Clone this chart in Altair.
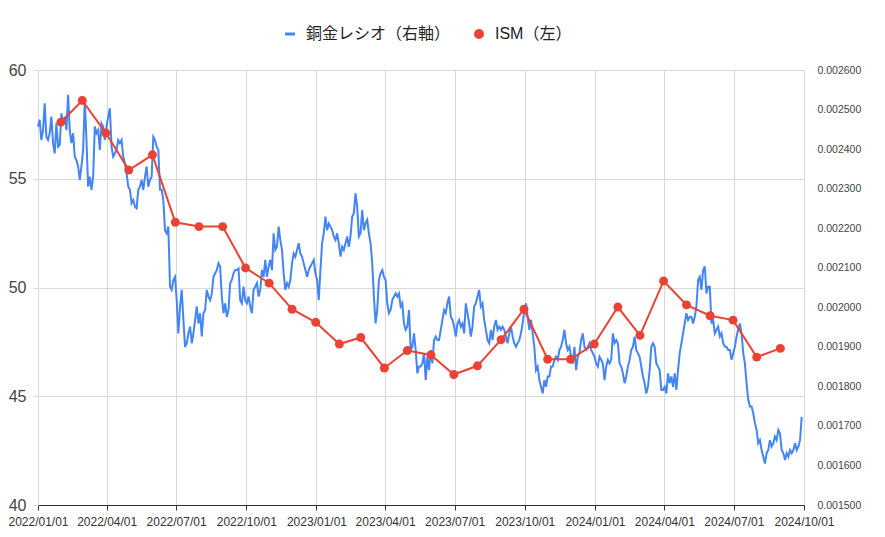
import altair as alt
import pandas as pd

# ---------------- data ----------------
# Copper/Gold ratio (right axis), sampled along the line
ratio_2022a = [
    0.002457, 0.002474, 0.002423, 0.002448, 0.002516, 0.002431, 0.002423, 0.002440, 0.002482, 0.002415,
    0.002389, 0.002465, 0.002406, 0.002410, 0.002490, 0.002465, 0.002482, 0.002448, 0.002537, 0.002448,
    0.002415, 0.002440, 0.002381, 0.002372, 0.002356, 0.002322, 0.002356, 0.002398, 0.002524, 0.002423,
    0.002305, 0.002330, 0.002297, 0.002330, 0.002457, 0.002440, 0.002448, 0.002398, 0.002465, 0.002457,
    0.002423, 0.002457, 0.002482, 0.002503, 0.002406, 0.002381, 0.002389, 0.002398, 0.002423, 0.002415,
    0.002423, 0.002381, 0.002364, 0.002339, 0.002305, 0.002297, 0.002263, 0.002271, 0.002254, 0.002250,
    0.002297, 0.002305, 0.002322, 0.002297, 0.002330, 0.002356, 0.002305, 0.002322, 0.002330, 0.002431,
    0.002423, 0.002406, 0.002398, 0.002297, 0.002297, 0.002271, 0.002195, 0.002187, 0.002204, 0.002052,
    0.002044, 0.002069, 0.002077, 0.002018, 0.001934, 0.002002, 0.002044, 0.001968, 0.001900, 0.001909,
    0.001934, 0.001951, 0.001909, 0.001934, 0.001968, 0.002002, 0.001959, 0.001985, 0.001926, 0.001985,
    0.001993, 0.002044, 0.002027, 0.002018, 0.002035, 0.002077, 0.002086, 0.002094, 0.002111,
]
ratio_2022b = [
    0.002103, 0.002027, 0.001985, 0.002010, 0.001976, 0.001993, 0.002061, 0.002069, 0.002086, 0.002094,
    0.002094, 0.002098, 0.002018, 0.002010, 0.002052, 0.002018, 0.002010, 0.002027, 0.002002, 0.001985,
    0.002044, 0.002052, 0.002061, 0.002027, 0.002044, 0.002094, 0.002077, 0.002120, 0.002077, 0.002103,
    0.002120, 0.002094, 0.002187, 0.002145, 0.002153, 0.002204, 0.002170, 0.002145, 0.002086, 0.002044,
    0.002061, 0.002052, 0.002069, 0.002111, 0.002136, 0.002128, 0.002145, 0.002162, 0.002136, 0.002128,
    0.002111, 0.002094, 0.002077, 0.002094, 0.002103, 0.002111, 0.002120, 0.002086, 0.002069, 0.002018,
    0.002094, 0.002162, 0.002187, 0.002229, 0.002195, 0.002212, 0.002204, 0.002195, 0.002179, 0.002170,
    0.002187, 0.002162, 0.002128, 0.002153, 0.002145, 0.002162, 0.002179, 0.002153, 0.002179, 0.002229,
    0.002238, 0.002288, 0.002254, 0.002179, 0.002187, 0.002246, 0.002195, 0.002212, 0.002221, 0.002187,
    0.002162, 0.002111, 0.002027, 0.001959, 0.001993, 0.002069, 0.002086, 0.002094, 0.002077, 0.002069,
    0.002010, 0.001985, 0.001993, 0.002018, 0.002027, 0.002035, 0.002027, 0.002035, 0.002002, 0.002010,
    0.001959, 0.001943, 0.001951, 0.001993, 0.001892, 0.001900, 0.001934, 0.001892, 0.001833, 0.001850,
]
ratio_2023 = [
    0.001850, 0.001858, 0.001884, 0.001816, 0.001875, 0.001841, 0.001892, 0.001858, 0.001917, 0.001926,
    0.001917, 0.001917, 0.001943, 0.001968, 0.001993, 0.001985, 0.002010, 0.002027, 0.001976, 0.001968,
    0.001951, 0.001926, 0.001959, 0.001968, 0.001951, 0.001959, 0.001934, 0.002010, 0.001985, 0.001959,
    0.001926, 0.001951, 0.002002, 0.002010, 0.002027, 0.002044, 0.002002, 0.002010, 0.001968, 0.001943,
    0.001917, 0.001909, 0.001943, 0.001917, 0.001951, 0.001968, 0.001943, 0.001951, 0.001943, 0.001951,
    0.001943, 0.001926, 0.001909, 0.001934, 0.001951, 0.001926, 0.001909, 0.001900, 0.001909, 0.001917,
    0.001934, 0.001959, 0.001993, 0.002010, 0.001976, 0.001943, 0.001968, 0.001934, 0.001900, 0.001841,
    0.001850, 0.001816, 0.001799, 0.001782, 0.001816, 0.001799, 0.001825, 0.001825, 0.001850, 0.001850,
    0.001867, 0.001875, 0.001867, 0.001892, 0.001900, 0.001917, 0.001943, 0.001909, 0.001892, 0.001900,
    0.001875, 0.001858, 0.001900, 0.001841, 0.001875, 0.001884, 0.001917, 0.001934, 0.001900, 0.001892,
    0.001900, 0.001909, 0.001892, 0.001884, 0.001875, 0.001858, 0.001850, 0.001875,
]
ratio_2024 = [
    0.001867, 0.001858, 0.001816, 0.001850, 0.001867, 0.001858, 0.001867, 0.001934, 0.001909, 0.001917,
    0.001909, 0.001858, 0.001850, 0.001833, 0.001808, 0.001825, 0.001850, 0.001867, 0.001892, 0.001900,
    0.001926, 0.001892, 0.001884, 0.001875, 0.001850, 0.001825, 0.001808, 0.001782, 0.001799, 0.001841,
    0.001900, 0.001909, 0.001900, 0.001858, 0.001850, 0.001841, 0.001791, 0.001791, 0.001799, 0.001782,
    0.001833, 0.001808, 0.001825, 0.001799, 0.001833, 0.001791, 0.001841, 0.001884, 0.001909, 0.001934,
    0.001959, 0.001985, 0.001968, 0.001976, 0.001976, 0.001959, 0.001976, 0.002002, 0.002069, 0.002077,
    0.002044, 0.002094, 0.002103, 0.002035, 0.002052, 0.002052, 0.001959, 0.001968, 0.001934, 0.001943,
    0.001951, 0.001926, 0.001934, 0.001909, 0.001900, 0.001900, 0.001892, 0.001892, 0.001867, 0.001884,
    0.001900, 0.001926, 0.001943, 0.001959, 0.001934, 0.001884, 0.001858, 0.001808, 0.001766, 0.001749,
    0.001749, 0.001732, 0.001707, 0.001690, 0.001656, 0.001664, 0.001639, 0.001622, 0.001605, 0.001631,
    0.001639, 0.001664, 0.001648, 0.001656, 0.001673, 0.001664, 0.001690, 0.001681, 0.001639, 0.001631,
    0.001614, 0.001631, 0.001622, 0.001639, 0.001631, 0.001639, 0.001656, 0.001639, 0.001648, 0.001664,
    0.001723,
]
ratio_start, ratio_end = "2022-01-01", "2024-09-28"

# ISM manufacturing PMI (left axis), monthly, plotted at month end Jan 2022 - Aug 2024
ism_values = [
    57.6, 58.6, 57.1, 55.4, 56.1, 53.0, 52.8, 52.8, 50.9, 50.2, 49.0, 48.4,
    47.4, 47.7, 46.3, 47.1, 46.9, 46.0, 46.4, 47.6, 49.0, 46.7, 46.7, 47.4,
    49.1, 47.8, 50.3, 49.2, 48.7, 48.5, 46.8, 47.2,
]
ism_first_month_end = "2022-01-31"

series_names = ["銅金レシオ（右軸）", "ISM（左）"]
series_colors = ["#4285f4", "#ea4335"]
legend_shapes = ["M-1,-0.3L1,-0.3L1,0.3L-1,0.3Z", "circle"]

x_tick_dates = [
    (2022, 1), (2022, 4), (2022, 7), (2022, 10),
    (2023, 1), (2023, 4), (2023, 7), (2023, 10),
    (2024, 1), (2024, 4), (2024, 7), (2024, 10),
]
left_ticks = [40, 45, 50, 55, 60]
right_ticks = [0.0015, 0.0016, 0.0017, 0.0018, 0.0019, 0.0020,
               0.0021, 0.0022, 0.0023, 0.0024, 0.0025, 0.0026]

# ---------------- tables ----------------
ratio_values = ratio_2022a + ratio_2022b + ratio_2023 + ratio_2024
ratio_dates = pd.date_range(ratio_start, ratio_end, periods=len(ratio_values))
ratio_df = pd.DataFrame({
    "date": ratio_dates.strftime("%Y-%m-%dT%H:%M:%SZ"),
    "value": ratio_values,
    "series": series_names[0],
})
ism_dates = pd.date_range(ism_first_month_end, periods=len(ism_values), freq=pd.offsets.MonthEnd())
ism_df = pd.DataFrame({
    "date": ism_dates.strftime("%Y-%m-%dT00:00:00Z"),
    "value": ism_values,
    "series": series_names[1],
})

FONT = "Liberation Sans, Arial, Noto Sans CJK JP"
GRID = "#d9d9d9"

def dt(y, m):
    return alt.DateTime(year=y, month=m, date=1, utc=True)

x_enc = alt.X(
    "date:T",
    scale=alt.Scale(type="utc", domain=[dt(2022, 1), dt(2024, 10)]),
    axis=alt.Axis(
        title=None, values=[dt(y, m) for y, m in x_tick_dates], format="%Y/%m/%d",
        labelFont=FONT, labelFontSize=12, labelColor="#333333", labelPadding=6,
        labelAngle=0, labelOverlap=False, labelFlush=False,
        grid=True, gridColor=GRID, gridWidth=1,
        domainColor="#333333", domainWidth=1, tickColor="#333333", tickSize=5,
    ),
)

legend = alt.Legend(
    title=None, orient="none", legendX=244, legendY=-44, direction="horizontal",
    labelFont=FONT, labelFontSize=16, labelColor="#222222", labelOffset=8,
    symbolSize=100, columnPadding=20, padding=0, symbolStrokeWidth=0,
)

color_enc = alt.Color(
    "series:N",
    scale=alt.Scale(domain=series_names, range=series_colors),
    legend=legend,
)
shape_enc = alt.Shape(
    "series:N",
    scale=alt.Scale(domain=series_names, range=legend_shapes),
    legend=legend,
)

ratio_line = alt.Chart(ratio_df).mark_line(strokeWidth=2, interpolate="linear").encode(
    x=x_enc,
    y=alt.Y(
        "value:Q",
        scale=alt.Scale(domain=[0.0015, 0.0026], nice=False, zero=False),
        axis=alt.Axis(
            orient="right", title=None, values=right_ticks, format=".6f",
            labelFont=FONT, labelFontSize=10.5, labelColor="#444444", labelPadding=13,
            grid=False, domain=False, ticks=False, labelFlush=False,
        ),
    ),
    color=color_enc,
)

ism_y = alt.Y(
    "value:Q",
    scale=alt.Scale(domain=[40, 60], nice=False, zero=False),
    axis=alt.Axis(
        orient="left", title=None, values=left_ticks, format="d",
        labelFont=FONT, labelFontSize=16, labelColor="#444444", labelPadding=7,
        grid=True, gridColor=GRID, gridWidth=1, domain=False,
        ticks=True, tickColor=GRID, tickSize=5, labelFlush=False,
    ),
)

ism_line = alt.Chart(ism_df).mark_line(strokeWidth=2).encode(
    x=x_enc, y=ism_y, color=color_enc,
)
ism_points = alt.Chart(ism_df).mark_point(filled=True, size=80, opacity=1).encode(
    x=x_enc, y=ism_y, color=color_enc, shape=shape_enc,
)

left_layer = alt.layer(ism_line, ism_points)

chart = alt.layer(ratio_line, left_layer).resolve_scale(y="independent").properties(
    width=766,
    height=435,
    autosize=alt.AutoSizeParams(type="none"),
    padding={"left": 30, "top": 62, "right": 73, "bottom": 24},
).configure_view(stroke=None).configure(background="white")

chart.save("out.html", embed_options={"renderer": "svg", "actions": False})
